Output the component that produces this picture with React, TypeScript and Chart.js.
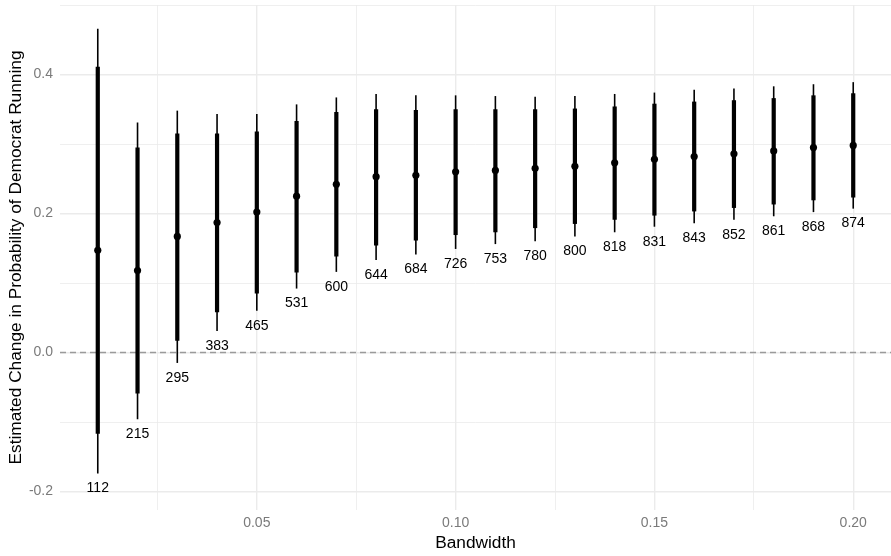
import React, { useEffect, useRef } from "react";
import { Chart, registerables } from "chart.js";

Chart.register(...registerables);

const bandwidth = [0.01, 0.02, 0.03, 0.04, 0.05, 0.06, 0.07, 0.08, 0.09, 0.1, 0.11, 0.12, 0.13, 0.14, 0.15, 0.16, 0.17, 0.18, 0.19, 0.2];
const nObs = [112, 215, 295, 383, 465, 531, 600, 644, 684, 726, 753, 780, 800, 818, 831, 843, 852, 861, 868, 874];
const estimate = [0.147, 0.118, 0.167, 0.187, 0.202, 0.225, 0.242, 0.253, 0.255, 0.26, 0.262, 0.265, 0.268, 0.273, 0.278, 0.282, 0.286, 0.29, 0.295, 0.298];
const lower90 = [-0.117, -0.059, 0.017, 0.058, 0.085, 0.115, 0.138, 0.154, 0.161, 0.169, 0.173, 0.179, 0.185, 0.191, 0.197, 0.203, 0.208, 0.213, 0.219, 0.223];
const upper90 = [0.411, 0.295, 0.315, 0.315, 0.318, 0.333, 0.346, 0.35, 0.349, 0.35, 0.35, 0.35, 0.351, 0.354, 0.358, 0.361, 0.363, 0.366, 0.37, 0.373];
const lower95 = [-0.174, -0.096, -0.015, 0.031, 0.06, 0.092, 0.116, 0.133, 0.141, 0.149, 0.156, 0.16, 0.167, 0.173, 0.181, 0.186, 0.191, 0.196, 0.202, 0.207];
const upper95 = [0.466, 0.331, 0.348, 0.343, 0.343, 0.357, 0.367, 0.372, 0.37, 0.37, 0.369, 0.368, 0.369, 0.372, 0.374, 0.378, 0.38, 0.383, 0.386, 0.389];

const yTicks = [-0.2, -0.1, 0, 0.1, 0.2, 0.3, 0.4, 0.5];
const yMajor = [-0.2, 0, 0.2, 0.4];
const xTicks = [0.025, 0.05, 0.075, 0.1, 0.125, 0.15, 0.175, 0.2];
const xMajor = [0.05, 0.1, 0.15, 0.2];

const FONT = "'Liberation Sans', Arial, Helvetica, sans-serif";

const isMajor = (v: number, list: number[]) => list.some((m) => Math.abs(m - v) < 1e-9);

const intervalPlugin = {
  id: "intervals",
  beforeDatasetsDraw(chart: any) {
    const { ctx, chartArea, scales } = chart;
    const xs = scales.x;
    const ys = scales.y;
    ctx.save();
    ctx.beginPath();
    ctx.rect(chartArea.left, chartArea.top, chartArea.right - chartArea.left, chartArea.bottom - chartArea.top);
    ctx.clip();
    const y0 = ys.getPixelForValue(0);
    ctx.strokeStyle = "#9a9a9a";
    ctx.lineWidth = 1.4;
    ctx.setLineDash([6, 4]);
    ctx.beginPath();
    ctx.moveTo(chartArea.left, y0);
    ctx.lineTo(chartArea.right, y0);
    ctx.stroke();
    ctx.setLineDash([]);
    ctx.strokeStyle = "#000";
    ctx.lineCap = "butt";
    for (let i = 0; i < bandwidth.length; i++) {
      const x = xs.getPixelForValue(bandwidth[i]);
      ctx.lineWidth = 1.6;
      ctx.beginPath();
      ctx.moveTo(x, ys.getPixelForValue(lower95[i]));
      ctx.lineTo(x, ys.getPixelForValue(upper95[i]));
      ctx.stroke();
      ctx.lineWidth = 4.2;
      ctx.beginPath();
      ctx.moveTo(x, ys.getPixelForValue(lower90[i]));
      ctx.lineTo(x, ys.getPixelForValue(upper90[i]));
      ctx.stroke();
    }
    ctx.restore();
  },
  afterDatasetsDraw(chart: any) {
    const { ctx, scales } = chart;
    const xs = scales.x;
    const ys = scales.y;
    ctx.save();
    ctx.fillStyle = "#000";
    ctx.font = `14px ${FONT}`;
    ctx.textAlign = "center";
    ctx.textBaseline = "middle";
    for (let i = 0; i < bandwidth.length; i++) {
      const x = xs.getPixelForValue(bandwidth[i]);
      const y = ys.getPixelForValue(lower95[i]) + 15;
      ctx.fillText(String(nObs[i]), x, y);
    }
    ctx.restore();
  },
};

export default function App() {
  const canvasRef = useRef<HTMLCanvasElement | null>(null);

  useEffect(() => {
    const canvas = canvasRef.current;
    if (!canvas) return;
    const chart = new Chart(canvas, {
      type: "scatter",
      data: {
        datasets: [
          {
            label: "Estimate",
            data: bandwidth.map((b, i) => ({ x: b, y: estimate[i] })),
            backgroundColor: "#000",
            borderColor: "#000",
            borderWidth: 0,
            pointRadius: 3.6,
            pointHoverRadius: 3.6,
          },
        ],
      },
      options: {
        animation: false,
        responsive: true,
        maintainAspectRatio: false,
        layout: { autoPadding: false, padding: { top: 5, right: 0, left: 0, bottom: 0 } },
        plugins: {
          legend: { display: false },
          tooltip: { enabled: false },
        },
        scales: {
          x: {
            type: "linear",
            min: 0.0005,
            max: 0.2095,
            afterBuildTicks: (scale: any) => {
              scale.ticks = xTicks.map((v) => ({ value: v }));
            },
            afterFit: (scale: any) => {
              scale.height = 46;
              scale.paddingLeft = 0;
              scale.paddingRight = 0;
            },
            border: { display: false },
            grid: {
              drawTicks: false,
              color: "#ebebeb",
              lineWidth: (c: any) => (isMajor(c.tick?.value, xMajor) ? 1.4 : 0.8),
            },
            ticks: {
              padding: 5,
              maxRotation: 0,
              autoSkip: false,
              color: "#7a7a7a",
              font: { family: FONT, size: 14 },
              callback: (v: any) => (isMajor(Number(v), xMajor) ? Number(v).toFixed(2) : ""),
            },
            title: {
              display: true,
              text: "Bandwidth",
              color: "#000",
              font: { family: FONT, size: 17.3 },
              padding: { top: 0, bottom: 2 },
            },
          },
          y: {
            type: "linear",
            min: -0.2266,
            max: 0.5,
            afterBuildTicks: (scale: any) => {
              scale.ticks = yTicks.map((v) => ({ value: v }));
            },
            afterFit: (scale: any) => {
              scale.width = 60;
              scale.paddingTop = 0;
              scale.paddingBottom = 0;
            },
            border: { display: false },
            grid: {
              drawTicks: false,
              color: "#ebebeb",
              lineWidth: (c: any) => (isMajor(c.tick?.value, yMajor) ? 1.4 : 0.8),
            },
            ticks: {
              padding: 7,
              autoSkip: false,
              color: "#7a7a7a",
              font: { family: FONT, size: 14 },
              callback: (v: any) => (isMajor(Number(v), yMajor) ? Number(v).toFixed(1) : ""),
            },
            title: {
              display: true,
              text: "Estimated Change in Probability of Democrat Running",
              color: "#000",
              font: { family: FONT, size: 17.3 },
              padding: { top: 6, bottom: 0 },
            },
          },
        },
      },
      plugins: [intervalPlugin],
    });
    return () => chart.destroy();
  }, []);

  return (
    <div style={{ position: "fixed", left: 0, top: 0, width: 891, height: 556, background: "#fff" }}>
      <canvas ref={canvasRef} />
    </div>
  );
}
